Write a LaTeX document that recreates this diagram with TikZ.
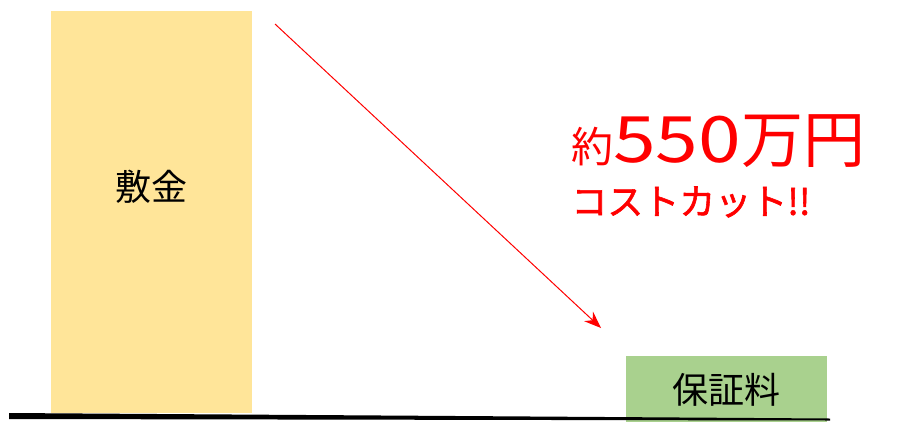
\documentclass[tikz,border=0pt]{standalone}
\usepackage{fontspec}
\usepackage{tikz}
\usetikzlibrary{positioning,arrows.meta}
\newfontfamily\jpfont{Noto Sans CJK JP}
\newfontfamily\jpheavyfont[FakeBold=1.5]{Noto Sans CJK JP}
\definecolor{depositcolor}{RGB}{255,229,153}
\definecolor{feecolor}{RGB}{169,209,142}
\tikzstyle{bar} = [rectangle, inner sep=0pt, font=\jpfont\fontsize{36}{40}\selectfont]
\tikzstyle{cut} = [red, inner sep=0pt, anchor=west, font=\jpfont]

\begin{document}
\begin{tikzpicture}[x=1pt,y=-1pt,>={Stealth[length=17pt,width=13pt]},semithick]
  \useasboundingbox (0,0) rectangle (907,421);
  \node[bar, fill=depositcolor, minimum width=201pt, minimum height=402pt] (deposit) at (151.5,212) {};
  \node[bar] (deposit text) at ([yshift=25pt]deposit.center) {敷金};
  \node[bar, fill=feecolor, minimum width=201pt, minimum height=68pt] (fee) at (726.5,390) {保証料};

  \coordinate (base west) at (9,416);
  \coordinate (base east) at (830,419.5);
  \fill ([yshift=3pt]base west) -- ([yshift=1pt]base east) -- ([yshift=-1pt]base east) -- ([yshift=-3pt]base west) -- cycle;

  \coordinate (arrow start) at (275,24);
  \coordinate (arrow end) at (601,328);
  \draw[->, red, line width=1pt] (arrow start) -- (arrow end);

  \node[cut] (amount) at (571,141) {\fontsize{42}{48}\selectfont 約\fontsize{64}{70}\selectfont\scalebox{1.2}[1]{550}\fontsize{62}{70}\selectfont 万円};
  \node[cut, font=\jpheavyfont] (slogan) at (571,202) {\fontsize{36}{44}\selectfont コストカット!!};
\end{tikzpicture}
\end{document}
